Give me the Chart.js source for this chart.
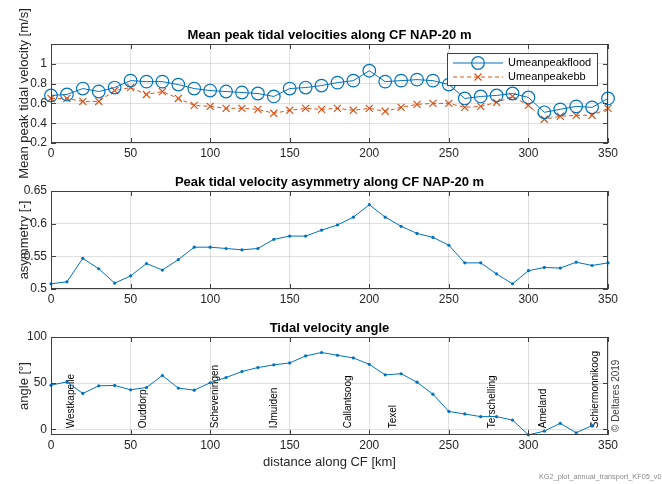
<!DOCTYPE html>
<html>
<head>
<meta charset="utf-8">
<script src="https://cdn.jsdelivr.net/npm/chart.js@4.4.1/dist/chart.umd.min.js"></script>
<style>
  html, body { margin: 0; padding: 0; background: #fff; width: 662px; height: 484px; overflow: hidden; }
  canvas { position: absolute; left: 0; }
</style>
</head>
<body>
<canvas id="velChart" width="662" height="190" style="top:0px"></canvas>
<canvas id="asymChart" width="662" height="146" style="top:163px"></canvas>
<canvas id="angleChart" width="662" height="175" style="top:309px"></canvas>
<script>
// --- data ---
const distanceKm = [0, 10, 20, 30, 40, 50, 60, 70, 80, 90, 100, 110, 120, 130, 140, 150, 160, 170,
                    180, 190, 200, 210, 220, 230, 240, 250, 260, 270, 280, 290, 300, 310, 320, 330, 340, 350];

const floodVel = [0.68, 0.69, 0.75, 0.72, 0.76, 0.83, 0.82, 0.82, 0.79, 0.75, 0.73, 0.72, 0.71, 0.70, 0.67, 0.75,
                  0.76, 0.78, 0.81, 0.83, 0.93, 0.82, 0.83, 0.84, 0.83, 0.79, 0.65, 0.67, 0.68, 0.70, 0.66, 0.51,
                  0.54, 0.57, 0.56, 0.65];
const ebbVel = [0.65, 0.65, 0.62, 0.62, 0.73, 0.76, 0.69, 0.72, 0.65, 0.58, 0.57, 0.55, 0.55, 0.54, 0.50, 0.53,
                0.55, 0.54, 0.55, 0.53, 0.55, 0.52, 0.56, 0.59, 0.60, 0.60, 0.56, 0.57, 0.61, 0.67, 0.58, 0.44,
                0.47, 0.48, 0.48, 0.55];

const asymmetry = [0.508, 0.511, 0.547, 0.531, 0.509, 0.520, 0.539, 0.529, 0.545, 0.564, 0.564, 0.562, 0.560, 0.562,
                   0.576, 0.581, 0.581, 0.590, 0.598, 0.610, 0.629, 0.610, 0.596, 0.585, 0.579, 0.567, 0.540, 0.540,
                   0.523, 0.508, 0.528, 0.533, 0.532, 0.541, 0.536, 0.540];

const angleKm = [0, 10, 20, 30, 40, 50, 60, 70, 80, 90, 100, 110, 120, 130, 140, 150, 160, 170,
                 180, 190, 200, 210, 220, 230, 240, 250, 260, 270, 280, 290, 300, 310, 320, 330, 340];
const angleDeg = [47.8, 51.4, 38.8, 47.1, 47.5, 42.8, 45.3, 58.3, 44.6, 42.4, 50.4, 56.1, 62.6, 66.9, 69.8, 71.9,
                  79.5, 83.2, 80.2, 77.3, 70.4, 59.0, 60.2, 51.0, 38.0, 19.3, 16.6, 13.7, 13.7, 10.0, -6.0, -2.0,
                  6.5, -3.8, 4.0];

const placeNames = ['Westkapelle', 'Ouddorp', 'Scheveningen', 'IJmuiden', 'Callantsoog', 'Texel',
                    'Terschelling', 'Ameland', 'Schiermonnikoog'];
const placeKm = [13, 58, 103, 140, 187, 215, 277, 309, 342];

const kmTicks = [0, 50, 100, 150, 200, 250, 300, 350];
const velTicks = [0.2, 0.4, 0.6, 0.8, 1];
const asymTicks = [0.5, 0.55, 0.6, 0.65];
const angleTicks = [0, 50, 100];

// --- styling ---
const FONT = '"Liberation Sans", Arial, Helvetica, sans-serif';
const BLUE = '#0072BD';
const ORANGE = '#D95319';
const AXIS_COLOR = '#404040';
const GRID_COLOR = 'rgba(0,0,0,0.12)';
const TEXT_COLOR = '#262626';

const toXY = (xs, ys) => xs.map((x, i) => ({ x: x, y: ys[i] }));

// axes box with inward tick marks on all four sides, plus panel title and y label
const boxPlugin = {
    id: 'matlabBox',
    afterDraw(chart) {
        const { ctx, chartArea: a, scales: { x, y } } = chart;
        ctx.save();
        ctx.strokeStyle = AXIS_COLOR;
        ctx.lineWidth = 1;
        ctx.strokeRect(Math.round(a.left) + 0.5, Math.round(a.top) + 0.5,
                       Math.round(a.width) - 1, Math.round(a.height) - 1);
        ctx.beginPath();
        x.ticks.forEach(t => {
            const px = Math.round(x.getPixelForValue(t.value)) + 0.5;
            ctx.moveTo(px, a.bottom); ctx.lineTo(px, a.bottom - 5);
            ctx.moveTo(px, a.top); ctx.lineTo(px, a.top + 5);
        });
        y.ticks.forEach(t => {
            const py = Math.round(y.getPixelForValue(t.value)) + 0.5;
            ctx.moveTo(a.left, py); ctx.lineTo(a.left + 5, py);
            ctx.moveTo(a.right, py); ctx.lineTo(a.right - 5, py);
        });
        ctx.stroke();

        const title = chart.options.plugins.panelTitle;
        if (title) {
            ctx.fillStyle = '#000';
            ctx.font = `bold 13px ${FONT}`;
            ctx.textAlign = 'center';
            ctx.textBaseline = 'middle';
            ctx.fillText(title, (a.left + a.right) / 2, a.top - 9);
        }
        const yTitle = chart.options.plugins.panelYTitle;
        if (yTitle) {
            ctx.fillStyle = TEXT_COLOR;
            ctx.font = `13px ${FONT}`;
            ctx.textAlign = 'center';
            ctx.textBaseline = 'middle';
            ctx.translate(24, (a.top + a.bottom) / 2);
            ctx.rotate(-Math.PI / 2);
            ctx.fillText(yTitle, 0, 0);
        }
        ctx.restore();
    }
};

function drawMarker(ctx, style, x, y, r) {
    ctx.beginPath();
    if (style === 'circle') {
        ctx.arc(x, y, r, 0, Math.PI * 2);
    } else {
        const d = r * Math.SQRT1_2;
        ctx.moveTo(x - d, y - d); ctx.lineTo(x + d, y + d);
        ctx.moveTo(x + d, y - d); ctx.lineTo(x - d, y + d);
    }
    ctx.stroke();
}

// legend box inside the top panel (north-east corner)
const insideLegend = {
    id: 'insideLegend',
    afterDraw(chart) {
        const ctx = chart.ctx;
        ctx.save();
        ctx.font = `11px ${FONT}`;
        const textX = 508;
        const w = Math.max(...chart.data.datasets.map(d => ctx.measureText(d.label).width));
        const left = 447, top = 53, right = Math.round(textX + w + 6), bottom = 85;
        ctx.fillStyle = '#fff';
        ctx.fillRect(left, top, right - left, bottom - top);
        ctx.strokeStyle = AXIS_COLOR;
        ctx.lineWidth = 1;
        ctx.strokeRect(left + 0.5, top + 0.5, right - left, bottom - top);
        const rows = [63, 77];
        chart.data.datasets.forEach((ds, i) => {
            const yy = rows[i];
            ctx.strokeStyle = ds.borderColor;
            ctx.lineWidth = ds.borderWidth;
            ctx.setLineDash(ds.borderDash || []);
            ctx.beginPath(); ctx.moveTo(453, yy); ctx.lineTo(503, yy); ctx.stroke();
            ctx.setLineDash([]);
            ctx.lineWidth = ds.pointBorderWidth;
            drawMarker(ctx, ds.pointStyle, 478, yy, ds.pointRadius);
            ctx.fillStyle = '#000';
            ctx.textAlign = 'left';
            ctx.textBaseline = 'middle';
            ctx.fillText(ds.label, textX, yy);
        });
        ctx.restore();
    }
};

// station names, copyright and file name in the bottom panel
const placeLabels = {
    id: 'placeLabels',
    beforeDatasetsDraw(chart) {
        const { ctx, scales: { x, y } } = chart;
        ctx.save();
        ctx.fillStyle = '#000';
        ctx.font = `10px ${FONT}`;
        ctx.textAlign = 'left';
        ctx.textBaseline = 'middle';
        placeNames.forEach((name, i) => {
            ctx.save();
            ctx.translate(x.getPixelForValue(placeKm[i]), y.getPixelForValue(0) - 1);
            ctx.rotate(-Math.PI / 2);
            ctx.fillText(name, 0, 0);
            ctx.restore();
        });
        ctx.restore();
    },
    afterDraw(chart) {
        const ctx = chart.ctx;
        ctx.save();
        ctx.fillStyle = '#404040';
        ctx.font = `10px ${FONT}`;
        ctx.textAlign = 'left';
        ctx.textBaseline = 'middle';
        ctx.translate(616, 123);
        ctx.rotate(-Math.PI / 2);
        ctx.fillText('\u00A9 Deltares 2019', 0, 0);
        ctx.restore();

        ctx.save();
        ctx.fillStyle = '#8a8a8a';
        ctx.font = `7.3px ${FONT}`;
        ctx.textAlign = 'left';
        ctx.textBaseline = 'middle';
        ctx.fillText('KG2_plot_annual_transport_KF05_v0', 539, 168);
        ctx.restore();
    }
};

function panelOptions(o) {
    return {
        responsive: false,
        animation: false,
        layout: { padding: { left: 0, right: 54, top: o.padTop, bottom: o.padBottom } },
        plugins: {
            legend: { display: false },
            tooltip: { enabled: false },
            panelTitle: o.title,
            panelYTitle: o.yTitle
        },
        scales: {
            x: {
                type: 'linear', min: 0, max: 350,
                afterBuildTicks: s => { s.ticks = kmTicks.map(v => ({ value: v })); },
                afterFit: s => { s.height = o.xHeight; },
                ticks: { padding: 3, color: TEXT_COLOR, font: { family: FONT, size: 12 }, maxRotation: 0, autoSkip: false },
                grid: { color: GRID_COLOR, drawTicks: false },
                border: { display: false },
                title: o.xTitle
                    ? { display: true, text: o.xTitle, color: TEXT_COLOR, font: { family: FONT, size: 13 }, padding: { top: 0, bottom: 5 } }
                    : { display: false }
            },
            y: {
                min: o.yMin, max: o.yMax,
                afterBuildTicks: s => { s.ticks = o.yTicks.map(v => ({ value: v })); },
                afterFit: s => { s.width = 51; },
                ticks: {
                    padding: 4, color: TEXT_COLOR, font: { family: FONT, size: 12 },
                    callback: v => String(parseFloat(Number(v).toFixed(3)))
                },
                grid: { color: GRID_COLOR, drawTicks: false },
                border: { display: false },
                title: { display: false }
            }
        }
    };
}

new Chart(document.getElementById('velChart'), {
    type: 'line',
    data: {
        datasets: [{
            label: 'Umeanpeakflood',
            data: toXY(distanceKm, floodVel),
            borderColor: BLUE, borderWidth: 1,
            pointStyle: 'circle', pointRadius: 6.3, pointBorderWidth: 1.2,
            pointBorderColor: BLUE, pointBackgroundColor: 'rgba(0,0,0,0)',
            tension: 0, clip: false
        }, {
            label: 'Umeanpeakebb',
            data: toXY(distanceKm, ebbVel),
            borderColor: ORANGE, borderWidth: 1, borderDash: [4, 3],
            pointStyle: 'crossRot', pointRadius: 5, pointBorderWidth: 1.2,
            pointBorderColor: ORANGE, pointBackgroundColor: ORANGE,
            tension: 0, clip: false
        }]
    },
    options: panelOptions({
        title: 'Mean peak tidal velocities along CF NAP-20 m',
        padTop: 44, padBottom: 27, xHeight: 20,
        yMin: 0.2, yMax: 1.2, yTicks: velTicks,
        yTitle: 'Mean peak tidal velocity [m/s]'
    }),
    plugins: [boxPlugin, insideLegend]
});

new Chart(document.getElementById('asymChart'), {
    type: 'line',
    data: {
        datasets: [{
            label: 'asymmetry',
            data: toXY(distanceKm, asymmetry),
            borderColor: BLUE, borderWidth: 1,
            pointStyle: 'circle', pointRadius: 1.6, pointBorderWidth: 0,
            pointBackgroundColor: BLUE,
            tension: 0, clip: false
        }]
    },
    options: panelOptions({
        title: 'Peak tidal velocity asymmetry along CF NAP-20 m',
        padTop: 28, padBottom: 0, xHeight: 20,
        yMin: 0.5, yMax: 0.65, yTicks: asymTicks,
        yTitle: 'asymmetry [-]'
    }),
    plugins: [boxPlugin]
});

new Chart(document.getElementById('angleChart'), {
    type: 'line',
    data: {
        datasets: [{
            label: 'angle',
            data: toXY(angleKm, angleDeg),
            borderColor: BLUE, borderWidth: 1,
            pointStyle: 'circle', pointRadius: 1.6, pointBorderWidth: 0,
            pointBackgroundColor: BLUE,
            tension: 0, clip: false
        }]
    },
    options: panelOptions({
        title: 'Tidal velocity angle',
        padTop: 28, padBottom: 9, xHeight: 40,
        yMin: -6.2, yMax: 100, yTicks: angleTicks,
        yTitle: 'angle [\u00B0]',
        xTitle: 'distance along CF [km]'
    }),
    plugins: [boxPlugin, placeLabels]
});
</script>
</body>
</html>
